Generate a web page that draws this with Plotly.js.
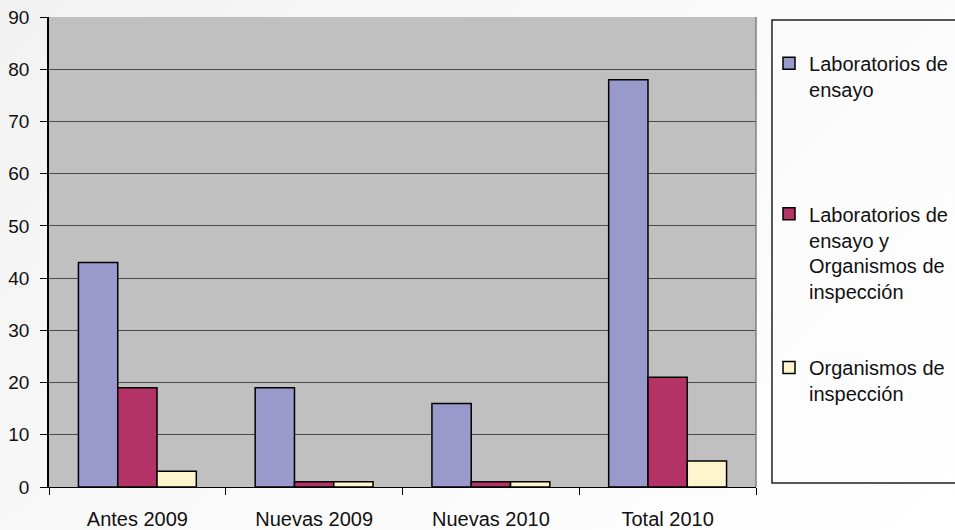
<!DOCTYPE html>
<html>
<head>
<meta charset="utf-8">
<script src="https://cdn.plot.ly/plotly-3.0.1.min.js"></script>
<style>
  html, body { margin: 0; padding: 0; }
  body { width: 955px; height: 530px; background: linear-gradient(135deg, #f2f2f2 0%, #fafafa 50%, #ffffff 100%); }
  #chart { width: 955px; height: 530px; }
</style>
</head>
<body>
<div id="chart"></div>
<script>
const categories = ["Antes 2009", "Nuevas 2009", "Nuevas 2010", "Total 2010"];
const seriesNames = [
  "Laboratorios de<br>ensayo",
  "Laboratorios de<br>ensayo y<br>Organismos de<br>inspección",
  "Organismos de<br>inspección"
];
const labEnsayo = [43, 19, 16, 78];
const labEnsayoInspeccion = [19, 1, 1, 21];
const orgInspeccion = [3, 1, 1, 5];
const seriesColors = ["#9999CC", "#B33366", "#FFF5CC"];
const yTicks = [0, 10, 20, 30, 40, 50, 60, 70, 80, 90];

const values = [labEnsayo, labEnsayoInspeccion, orgInspeccion];
const legendIds = ["legend", "legend2", "legend3"];

const traces = values.map((v, i) => ({
  type: "bar",
  name: seriesNames[i],
  x: categories,
  y: v,
  legend: legendIds[i],
  marker: { color: seriesColors[i], line: { color: "#000000", width: 1.5 } },
  hoverinfo: "x+y+name"
}));

const fam = "'Liberation Sans', Arial, sans-serif";
const font = { family: fam, size: 20, color: "#111111" };

function legendAt(y) {
  return {
    x: 1.0184, xanchor: "left",
    y: y, yanchor: "top",
    bgcolor: "rgba(0,0,0,0)",
    borderwidth: 0,
    font: font,
    valign: "top",
    itemclick: false,
    itemdoubleclick: false
  };
}

const layout = {
  width: 955,
  height: 530,
  margin: { l: 49, r: 199, t: 17, b: 43, autoexpand: false },
  paper_bgcolor: "rgba(0,0,0,0)",
  plot_bgcolor: "#C0C0C0",
  font: font,
  barmode: "group",
  bargap: 0.333,
  bargroupgap: 0,
  showlegend: true,
  legend: legendAt(0.943),
  legend2: legendAt(0.623),
  legend3: legendAt(0.296),
  xaxis: {
    type: "category",
    tickson: "boundaries",
    ticks: "outside",
    ticklen: 7,
    tickcolor: "#000000",
    tickwidth: 1,
    showgrid: false,
    showline: true,
    linecolor: "#000000",
    linewidth: 1,
    ticklabelstandoff: 14,
    tickfont: { family: fam, size: 20, color: "#111111" },
    zeroline: false,
    automargin: false,
    fixedrange: true
  },
  yaxis: {
    range: [0, 90],
    tickvals: yTicks,
    ticktext: yTicks.map(String),
    ticks: "outside",
    ticklen: 7,
    tickcolor: "#000000",
    tickwidth: 1,
    showgrid: true,
    gridcolor: "#4a4a4a",
    gridwidth: 1,
    showline: true,
    linecolor: "#000000",
    linewidth: 1.5,
    zeroline: false,
    ticklabelstandoff: 7,
    tickfont: { family: fam, size: 19, color: "#111111" },
    automargin: false,
    fixedrange: true
  },
  shapes: [
    { type: "line", xref: "paper", yref: "paper", x0: 1, x1: 1, y0: 0, y1: 1,
      line: { color: "#808080", width: 1.5 } },
    { type: "rect", xref: "paper", yref: "paper", x0: 1.0226, x1: 1.29, y0: 0.0085, y1: 0.9936,
      line: { color: "#222222", width: 1.5 }, fillcolor: "rgba(255,255,255,0)", layer: "below" }
  ]
};

Plotly.newPlot("chart", traces, layout, { displayModeBar: false });
</script>
</body>
</html>
